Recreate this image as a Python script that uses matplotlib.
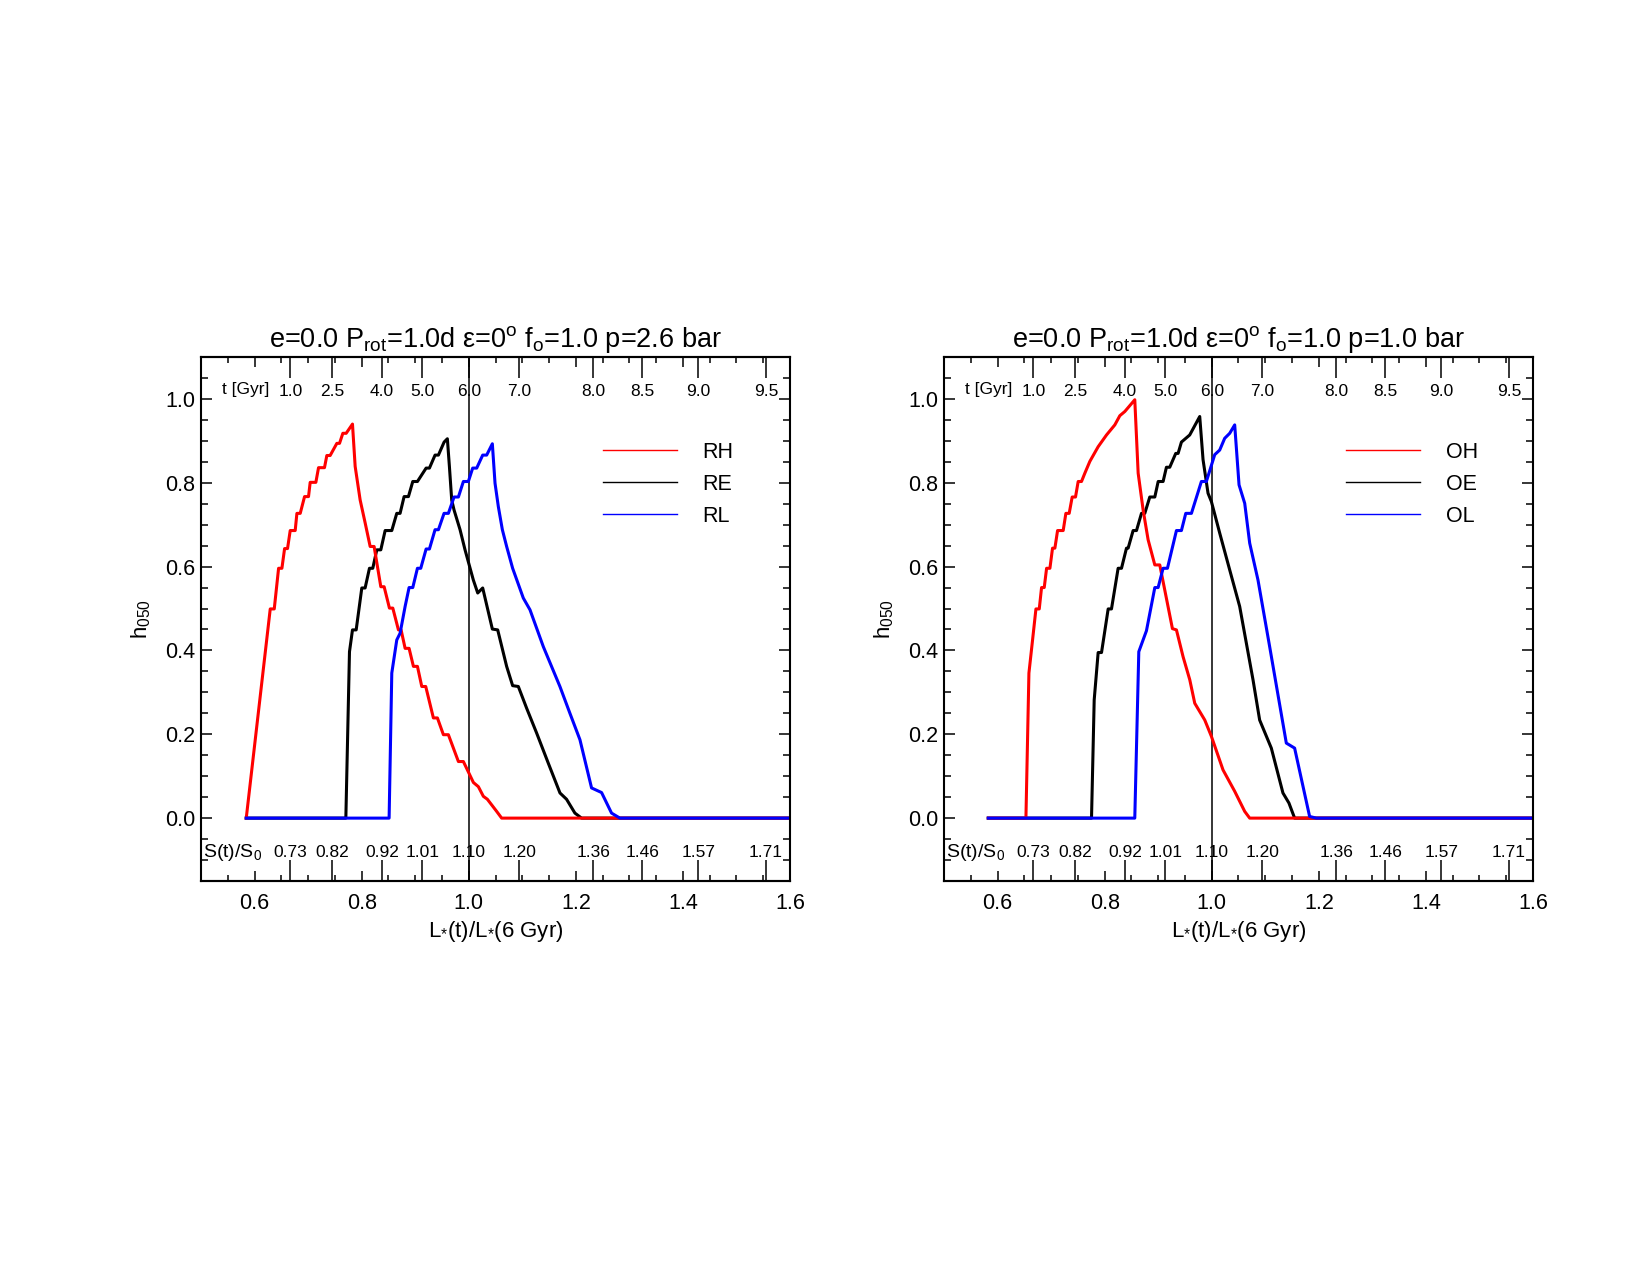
import matplotlib
matplotlib.use("Agg")
import matplotlib.pyplot as plt
from matplotlib.lines import Line2D
from matplotlib.ticker import MultipleLocator

plt.rcParams['font.family'] = ['Liberation Sans', 'DejaVu Sans']
plt.rcParams['mathtext.fontset'] = 'custom'
plt.rcParams['mathtext.rm'] = 'Liberation Sans'
plt.rcParams['mathtext.it'] = 'Liberation Sans:italic'
plt.rcParams['mathtext.bf'] = 'Liberation Sans:bold'

# luminosity ratio at which the age / flux ticks sit
age_lum = [0.667, 0.7455, 0.8377, 0.9135, 1.0, 1.0944, 1.233, 1.324, 1.429, 1.555]
age_labels = ['1.0', '2.5', '4.0', '5.0', '6.0', '7.0', '8.0', '8.5', '9.0', '9.5']
flux_labels = ['0.73', '0.82', '0.92', '1.01', '1.10', '1.20', '1.36', '1.46', '1.57', '1.71']

# p = 2.6 bar panel
rh_x = [0.5845, 0.6293, 0.6368, 0.6449, 0.6511, 0.6561, 0.6616, 0.6666, 0.6759, 0.6791,
        0.6853, 0.6934, 0.7008, 0.7039, 0.7145, 0.7195, 0.7306, 0.7350, 0.7412, 0.7537,
        0.7587, 0.7649, 0.7711, 0.7829, 0.7879, 0.7972, 0.8066, 0.8159, 0.8233, 0.8358,
        0.8420, 0.8519, 0.8582, 0.8687, 0.8737, 0.8812, 0.8886, 0.8967, 0.9042, 0.9123,
        0.9197, 0.9340, 0.9415, 0.9527, 0.9620, 0.9807, 0.9900, 1.0087, 1.0180, 1.0273,
        1.0348, 1.0522, 1.0615, 1.6]
rh_y = [0.0, 0.499, 0.499, 0.596, 0.596, 0.643, 0.643, 0.686, 0.686, 0.727,
        0.727, 0.767, 0.767, 0.801, 0.801, 0.836, 0.836, 0.865, 0.865, 0.894,
        0.894, 0.918, 0.918, 0.940, 0.839, 0.759, 0.704, 0.648, 0.648, 0.552,
        0.552, 0.501, 0.501, 0.449, 0.449, 0.405, 0.405, 0.362, 0.362, 0.314,
        0.314, 0.239, 0.239, 0.199, 0.199, 0.135, 0.135, 0.085, 0.075, 0.052,
        0.045, 0.016, 0.0, 0.0]
re_x = [0.5845, 0.7705, 0.7773, 0.7829, 0.7898, 0.8003, 0.8065, 0.8146, 0.8208, 0.8283,
        0.8358, 0.8439, 0.8563, 0.8656, 0.8718, 0.8793, 0.8874, 0.8955, 0.9042, 0.9204,
        0.9266, 0.9371, 0.9434, 0.9540, 0.9601, 0.9639, 0.9682, 0.9726, 0.9838, 0.9931,
        1.0086, 1.0168, 1.0261, 1.0441, 1.0541, 1.0708, 1.0820, 1.0926, 1.1082, 1.1268,
        1.1486, 1.1704, 1.1827, 1.1983, 1.2107, 1.6]
re_y = [0.0, 0.0, 0.397, 0.449, 0.449, 0.549, 0.549, 0.596, 0.596, 0.640,
        0.640, 0.686, 0.686, 0.727, 0.727, 0.767, 0.767, 0.803, 0.803, 0.835,
        0.835, 0.866, 0.866, 0.897, 0.905, 0.839, 0.759, 0.735, 0.688, 0.640,
        0.568, 0.537, 0.549, 0.451, 0.449, 0.362, 0.316, 0.314, 0.262, 0.203,
        0.131, 0.060, 0.045, 0.012, 0.0, 0.0]
rl_x = [0.5845, 0.8513, 0.8563, 0.8656, 0.8718, 0.8812, 0.8886, 0.8955, 0.9042, 0.9104,
        0.9204, 0.9266, 0.9371, 0.9434, 0.9539, 0.9620, 0.9726, 0.9807, 0.9900, 0.9993,
        1.0074, 1.0149, 1.0261, 1.0335, 1.0441, 1.0491, 1.0553, 1.0628, 1.0708, 1.0820,
        1.1019, 1.1144, 1.1393, 1.1703, 1.1890, 1.2077, 1.2294, 1.2481, 1.2667, 1.2823, 1.6]
rl_y = [0.0, 0.0, 0.346, 0.425, 0.441, 0.505, 0.550, 0.550, 0.596, 0.596,
        0.642, 0.642, 0.688, 0.688, 0.727, 0.727, 0.766, 0.766, 0.803, 0.803,
        0.835, 0.835, 0.866, 0.866, 0.893, 0.799, 0.743, 0.688, 0.648, 0.596,
        0.525, 0.497, 0.409, 0.314, 0.250, 0.187, 0.072, 0.061, 0.012, 0.0, 0.0]

# p = 1.0 bar panel
oh_x = [0.5827, 0.6530, 0.6586, 0.6654, 0.6717, 0.6779, 0.6822, 0.6872, 0.6916, 0.6978,
        0.7027, 0.7071, 0.7121, 0.7226, 0.7276, 0.7338, 0.7394, 0.7456, 0.7506, 0.7568,
        0.7631, 0.7724, 0.7879, 0.8035, 0.8190, 0.8284, 0.8377, 0.8563, 0.8626, 0.8719,
        0.8812, 0.8937, 0.9030, 0.9266, 0.9341, 0.9465, 0.9590, 0.9683, 0.9870, 0.9994,
        1.0211, 1.0429, 1.0616, 1.0709, 1.6]
oh_y = [0.0, 0.0, 0.346, 0.425, 0.499, 0.499, 0.550, 0.550, 0.596, 0.596,
        0.644, 0.644, 0.686, 0.686, 0.727, 0.727, 0.766, 0.766, 0.803, 0.803,
        0.823, 0.851, 0.886, 0.914, 0.938, 0.960, 0.970, 0.998, 0.823, 0.735,
        0.664, 0.604, 0.604, 0.452, 0.449, 0.385, 0.330, 0.274, 0.234, 0.195,
        0.115, 0.064, 0.016, 0.0, 0.0]
oe_x = [0.5827, 0.7755, 0.7805, 0.7879, 0.7942, 0.8066, 0.8128, 0.8252, 0.8315, 0.8408,
        0.8439, 0.8532, 0.8595, 0.8688, 0.8750, 0.8843, 0.8937, 0.9000, 0.9092, 0.9154,
        0.9216, 0.9328, 0.9372, 0.9434, 0.9589, 0.9776, 0.9838, 0.9931, 0.9994, 1.0149,
        1.0336, 1.0522, 1.0771, 1.0895, 1.1113, 1.1330, 1.1442, 1.1548, 1.6]
oe_y = [0.0, 0.0, 0.282, 0.395, 0.395, 0.499, 0.499, 0.596, 0.596, 0.644,
        0.644, 0.686, 0.686, 0.727, 0.727, 0.766, 0.766, 0.803, 0.803, 0.837,
        0.837, 0.870, 0.870, 0.897, 0.914, 0.958, 0.855, 0.775, 0.755, 0.680,
        0.592, 0.505, 0.330, 0.234, 0.167, 0.060, 0.036, 0.0, 0.0]
ol_x = [0.5827, 0.8563, 0.8638, 0.8781, 0.8937, 0.8999, 0.9092, 0.9173, 0.9341, 0.9434,
        0.9515, 0.9621, 0.9807, 0.9900, 1.0056, 1.0149, 1.0242, 1.0336, 1.0429, 1.0510,
        1.0616, 1.0709, 1.0864, 1.1082, 1.1393, 1.1548, 1.1828, 1.1953, 1.6]
ol_y = [0.0, 0.0, 0.397, 0.447, 0.550, 0.550, 0.596, 0.596, 0.686, 0.686,
        0.727, 0.727, 0.803, 0.803, 0.867, 0.878, 0.906, 0.918, 0.938, 0.795,
        0.751, 0.656, 0.568, 0.409, 0.179, 0.167, 0.004, 0.0, 0.0]

colors = ['red', 'black', 'blue']


def draw_panel(ax, curves, names, pressure):
    ax.axvline(1.0, color='black', lw=1.1, zorder=1)
    # black first, then red, blue on top
    for i in (1, 0, 2):
        x, y = curves[i]
        ax.plot(x, y, color=colors[i], lw=2.2, zorder=2)

    ax.set_xlim(0.5, 1.6)
    ax.set_ylim(-0.15, 1.1)
    ax.xaxis.set_major_locator(MultipleLocator(0.2))
    ax.xaxis.set_minor_locator(MultipleLocator(0.05))
    ax.yaxis.set_major_locator(MultipleLocator(0.2))
    ax.yaxis.set_minor_locator(MultipleLocator(0.05))
    ax.tick_params(which='both', direction='in', top=True, right=True, width=1.1)
    ax.tick_params(axis='x', which='major', length=7, pad=9, labelsize=15.5)
    ax.tick_params(axis='x', which='minor', length=4)
    ax.tick_params(axis='y', which='major', length=8, pad=4, labelsize=15.5)
    ax.tick_params(axis='y', which='minor', length=5)
    for sp in ax.spines.values():
        sp.set_linewidth(1.5)

    # age axis along the top, flux axis along the bottom, labels inside
    top = ax.secondary_xaxis('top')
    top.set_xticks(age_lum, labels=age_labels)
    top.tick_params(direction='in', length=15, width=1.1, pad=-30, labelsize=12.5)
    top.spines['top'].set_linewidth(1.5)
    bot = ax.secondary_xaxis('bottom')
    bot.set_xticks(age_lum, labels=flux_labels)
    bot.tick_params(direction='in', length=15, width=1.1, pad=-26, labelsize=12.5)
    bot.spines['bottom'].set_linewidth(1.5)
    ax.text(0.036, 0.9294, 't [Gyr]', transform=ax.transAxes, fontsize=12.5,
            ha='left', va='baseline')
    ax.text(0.003, 0.0452, r'S(t)/S$_{0}$', transform=ax.transAxes, fontsize=14,
            ha='left', va='baseline')

    handles = [Line2D([], [], color=c, lw=1.0) for c in colors]
    ax.legend(handles, names, loc='upper left', bbox_to_anchor=(0.6825, 0.8378),
              frameon=False, borderpad=0, borderaxespad=0, handlelength=3.43,
              handletextpad=1.2, labelspacing=0.5, fontsize=15.5)

    ax.set_title(r'e=0.0 P$_{\rm rot}$=1.0d ε=0$^{\rm o}$ f$_{\rm o}$=1.0 p=' + pressure + ' bar',
                 fontsize=19.5, pad=7.2)
    ax.set_xlabel(r'L$_{*}$(t)/L$_{*}$(6 Gyr)', fontsize=16, labelpad=3)
    ax.set_ylabel(r'h$_{050}$', fontsize=16, labelpad=9)


fig = plt.figure(figsize=(16.5, 12.75), dpi=100)
ax1 = fig.add_axes([0.12182, 0.30902, 0.35697, 0.41098])
ax2 = fig.add_axes([0.57212, 0.30902, 0.35697, 0.41098])

draw_panel(ax1, [(rh_x, rh_y), (re_x, re_y), (rl_x, rl_y)], ['RH', 'RE', 'RL'], '2.6')
draw_panel(ax2, [(oh_x, oh_y), (oe_x, oe_y), (ol_x, ol_y)], ['OH', 'OE', 'OL'], '1.0')

fig.savefig('out.png', dpi=100)
